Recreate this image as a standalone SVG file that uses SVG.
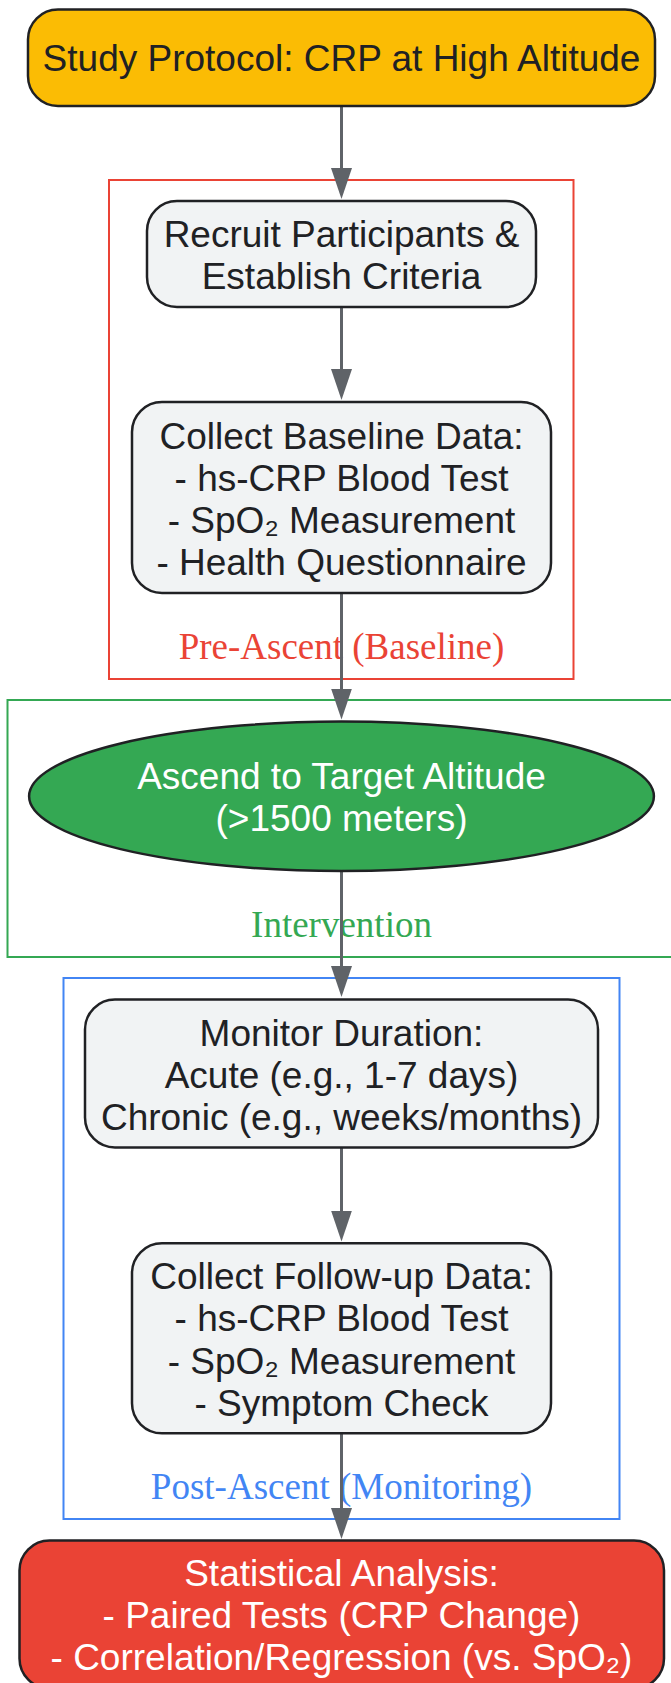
<svg xmlns="http://www.w3.org/2000/svg" width="671" height="1683" viewBox="0 0 671 1683">
<style>
.node{stroke:#202124;stroke-width:2.5}
.gray{fill:#f1f3f4}
.t{font-family:"Liberation Sans",Arial,sans-serif;font-size:37px;fill:#202124;text-anchor:middle}
.w{fill:#ffffff}
.cl{fill:none;stroke-width:2}
.cll{font-family:"Liberation Serif","Times New Roman",serif;font-size:37px;text-anchor:middle}
.edge{fill:none;stroke:#5f6368;stroke-width:3}
</style>
<defs>
<marker id="arr" markerUnits="userSpaceOnUse" markerWidth="32" markerHeight="22" viewBox="0 0 32 22" refX="2" refY="11" orient="auto">
<path d="M0,0.5 L31,11 L0,21.5 z" fill="#5f6368"/>
</marker>
</defs>
<rect width="671" height="1683" fill="#ffffff"/>

<g id="cluster-pre">
<rect class="cl" x="109" y="180" width="464.5" height="499" stroke="#ea4335"/>
<text class="cll" x="341.5" y="659" fill="#ea4335">Pre-Ascent (Baseline)</text>
</g>
<g id="cluster-intervention">
<rect class="cl" x="7.5" y="700" width="668" height="257" stroke="#34a853"/>
<text class="cll" x="341.5" y="937" fill="#34a853">Intervention</text>
</g>
<g id="cluster-post">
<rect class="cl" x="63.5" y="978" width="556" height="541" stroke="#4285f4"/>
<text class="cll" x="341.5" y="1498.5" fill="#4285f4">Post-Ascent (Monitoring)</text>
</g>

<g id="edges">
<path class="edge" d="M341.5,106 V170" marker-end="url(#arr)"/>
<path class="edge" d="M341.5,307 V371" marker-end="url(#arr)"/>
<path class="edge" d="M341.5,593 V690.5" marker-end="url(#arr)"/>
<path class="edge" d="M341.5,871 V968" marker-end="url(#arr)"/>
<path class="edge" d="M341.5,1147.5 V1212.5" marker-end="url(#arr)"/>
<path class="edge" d="M341.5,1433 V1510" marker-end="url(#arr)"/>
</g>

<g id="start">
<rect class="node" x="28" y="9.5" width="627" height="96.5" rx="30" fill="#fbbc04"/>
<text class="t" x="341.5" y="71">Study Protocol: CRP at High Altitude</text>
</g>
<g id="recruit">
<rect class="node gray" x="147" y="201" width="389" height="106" rx="30"/>
<text class="t" x="341.5" y="247">Recruit Participants &amp;</text>
<text class="t" x="341.5" y="289">Establish Criteria</text>
</g>
<g id="baseline">
<rect class="node gray" x="132" y="402" width="419" height="191" rx="30"/>
<text class="t" x="341.5" y="448.5">Collect Baseline Data:</text>
<text class="t" x="341.5" y="490.5">- hs-CRP Blood Test</text>
<text class="t" x="341.5" y="532.5">- SpO₂ Measurement</text>
<text class="t" x="341.5" y="574.5">- Health Questionnaire</text>
</g>
<g id="ascend">
<ellipse class="node" cx="341.5" cy="796.3" rx="312.4" ry="74.7" fill="#34a853"/>
<text class="t w" x="341.5" y="789">Ascend to Target Altitude</text>
<text class="t w" x="341.5" y="831">(&gt;1500 meters)</text>
</g>
<g id="monitor">
<rect class="node gray" x="85" y="999.5" width="513" height="148" rx="30"/>
<text class="t" x="341.5" y="1046">Monitor Duration:</text>
<text class="t" x="341.5" y="1088">Acute (e.g., 1-7 days)</text>
<text class="t" x="341.5" y="1129.5">Chronic (e.g., weeks/months)</text>
</g>
<g id="followup">
<rect class="node gray" x="132" y="1243.3" width="419" height="190" rx="30"/>
<text class="t" x="341.5" y="1289">Collect Follow-up Data:</text>
<text class="t" x="341.5" y="1331.3">- hs-CRP Blood Test</text>
<text class="t" x="341.5" y="1373.6">- SpO₂ Measurement</text>
<text class="t" x="341.5" y="1415.7">- Symptom Check</text>
</g>
<g id="analysis">
<rect class="node" x="19.5" y="1540.5" width="644.5" height="148" rx="30" fill="#ea4335"/>
<text class="t w" x="341.5" y="1586">Statistical Analysis:</text>
<text class="t w" x="341.5" y="1628.3">- Paired Tests (CRP Change)</text>
<text class="t w" x="341.5" y="1670">- Correlation/Regression (vs. SpO₂)</text>
</g>
</svg>
